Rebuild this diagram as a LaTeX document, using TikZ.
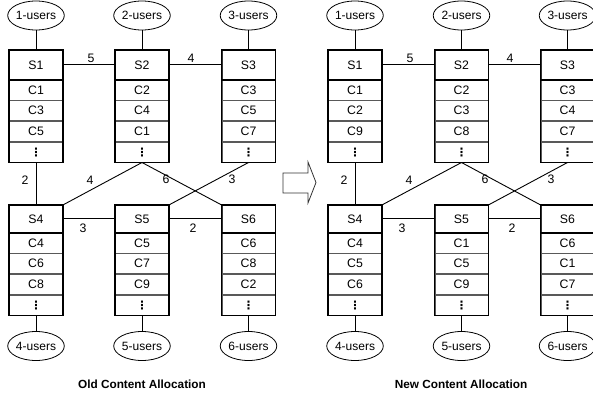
\documentclass[tikz,border=0pt]{standalone}
\usepackage{fontspec}
\setmainfont{Liberation Sans}
\newfontfamily\dvfont{DejaVu Sans}
\usetikzlibrary{shapes.geometric}
\tikzset{
  txt/.style={font=\fontsize{12.3}{14}\selectfont},
  hdr/.style={draw=black!80, line width=0.7pt, minimum width=53pt, minimum height=#1, inner sep=0pt, anchor=north, txt},
  cell/.style={draw=black!65, line width=0.7pt, minimum width=53pt, minimum height=20pt, inner sep=0pt, anchor=north, txt},
  users/.style={ellipse, draw, line width=0.8pt, minimum width=56pt, minimum height=29pt, inner sep=0pt, font=\fontsize{12}{14}\selectfont},
  link/.style={line width=0.9pt},
  frame/.style={line width=1.6pt},
  lbl/.style={inner sep=0pt, txt},
  ttl/.style={inner sep=0pt, font=\bfseries\fontsize{11.8}{13}\selectfont},
  arrowshape/.style={line width=0.8pt, draw=black!80, fill=white}
}
\newcommand\srvbox[8]{%
  \node[hdr=#4pt] (#1) at (#2,#3) {#5};
  \node[cell] (#1a) at (#1.south) {#6};
  \node[cell] (#1b) at (#1a.south) {#7};
  \node[cell] (#1c) at (#1b.south) {#8};
  \node[cell] (#1d) at (#1c.south) {{\dvfont\bfseries\fontsize{11.5}{12}\selectfont ⋮}};
  \draw[frame] (#1.north west) rectangle (#1d.south east);
  \draw[frame] (#1.south west) -- (#1.south east);
}
\begin{document}
\begin{tikzpicture}[x=1pt,y=-1pt]
\useasboundingbox (0,0) rectangle (593,399);
\clip (0,0) rectangle (593,399);

% ---------- Old allocation ----------
\srvbox{oS1}{36}{50}{29}{S1}{C1}{C3}{C5}
\srvbox{oS2}{142}{50}{29}{S2}{C2}{C4}{C1}
\srvbox{oS3}{248.5}{50}{29}{S3}{C3}{C5}{C7}
\srvbox{oS4}{36}{205}{27}{S4}{C4}{C6}{C8}
\srvbox{oS5}{142}{205}{27}{S5}{C5}{C7}{C9}
\srvbox{oS6}{248.5}{205}{27}{S6}{C6}{C8}{C2}

\node[users] (ou1) at (36,15.5) {1-users};
\node[users] (ou2) at (142,15.5) {2-users};
\node[users] (ou3) at (248.5,15.5) {3-users};
\node[users] (ou4) at (36,346) {4-users};
\node[users] (ou5) at (142,346) {5-users};
\node[users] (ou6) at (248.5,346) {6-users};

\draw[link] (ou1) -- (oS1);
\draw[link] (ou2) -- (oS2);
\draw[link] (ou3) -- (oS3);
\draw[link] (oS4d) -- (ou4);
\draw[link] (oS5d) -- (ou5);
\draw[link] (oS6d) -- (ou6);
\draw[link] (oS1) -- (oS2);
\draw[link] (oS2) -- (oS3);
\draw[link] (oS4) -- (oS5);
\draw[link] (oS5) -- (oS6);
\draw[link] (oS1d) -- (oS4);
\draw[link] (oS2d.south) -- (oS4.north east);
\draw[link] (oS2d.south) -- (oS6.north west);
\draw[link] (oS3d.south) -- (oS5.north east);

\node[lbl] (ol5) at (91,58) {5};
\node[lbl] (ol4a) at (191,58) {4};
\node[lbl] (ol2a) at (25,180) {2};
\node[lbl] (ol4b) at (90,180) {4};
\node[lbl] (ol6) at (166,179) {6};
\node[lbl] (ol3a) at (232,179) {3};
\node[lbl] (ol3b) at (83,228) {3};
\node[lbl] (ol2b) at (193,228) {2};

\node[ttl] (otitle) at (142,384) {Old Content Allocation};

% ---------- arrow ----------
\draw[arrowshape] (283,173) -- (308,173) -- (308,162) -- (316,182.5) -- (308,203) -- (308,193) -- (283,193) -- cycle;

% ---------- New allocation ----------
\srvbox{nS1}{355}{50}{29}{S1}{C1}{C2}{C9}
\srvbox{nS2}{461.5}{50}{29}{S2}{C2}{C3}{C8}
\srvbox{nS3}{567.5}{50}{29}{S3}{C3}{C4}{C7}
\srvbox{nS4}{355}{205}{27}{S4}{C4}{C5}{C6}
\srvbox{nS5}{461.5}{205}{27}{S5}{C1}{C5}{C9}
\srvbox{nS6}{567.5}{205}{27}{S6}{C6}{C1}{C7}

\node[users] (nu1) at (355,15.5) {1-users};
\node[users] (nu2) at (461.5,15.5) {2-users};
\node[users] (nu3) at (567.5,15.5) {3-users};
\node[users] (nu4) at (355,346) {4-users};
\node[users] (nu5) at (461.5,346) {5-users};
\node[users] (nu6) at (567.5,346) {6-users};

\draw[link] (nu1) -- (nS1);
\draw[link] (nu2) -- (nS2);
\draw[link] (nu3) -- (nS3);
\draw[link] (nS4d) -- (nu4);
\draw[link] (nS5d) -- (nu5);
\draw[link] (nS6d) -- (nu6);
\draw[link] (nS1) -- (nS2);
\draw[link] (nS2) -- (nS3);
\draw[link] (nS4) -- (nS5);
\draw[link] (nS5) -- (nS6);
\draw[link] (nS1d) -- (nS4);
\draw[link] (nS2d.south) -- (nS4.north east);
\draw[link] (nS2d.south) -- (nS6.north west);
\draw[link] (nS3d.south) -- (nS5.north east);

\node[lbl] (nl5) at (410,58) {5};
\node[lbl] (nl4a) at (510,58) {4};
\node[lbl] (nl2a) at (344,180) {2};
\node[lbl] (nl4b) at (409,180) {4};
\node[lbl] (nl6) at (485,179) {6};
\node[lbl] (nl3a) at (551,179) {3};
\node[lbl] (nl3b) at (402,228) {3};
\node[lbl] (nl2b) at (512,228) {2};

\node[ttl] (ntitle) at (461,384) {New Content Allocation};
\end{tikzpicture}
\end{document}
